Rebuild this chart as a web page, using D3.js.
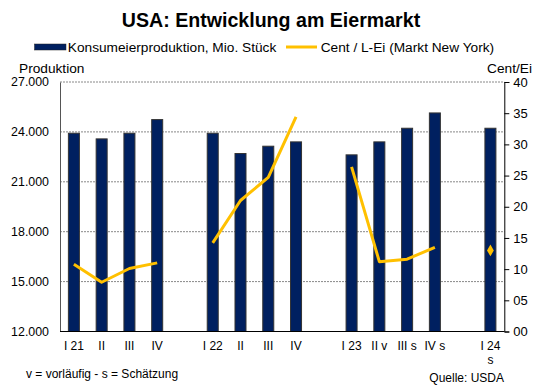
<!DOCTYPE html>
<html><head><meta charset="utf-8">
<script src="https://cdn.jsdelivr.net/npm/d3@7"></script>
<style>
body{margin:0;background:#fff;}
text{font-family:"Liberation Sans",Arial,sans-serif;fill:#000;}
</style></head>
<body><svg id="c" width="540" height="391"></svg>
<script>
const categories = ["I 21","II","III","IV","gap1","I 22","II","III","IV","gap2","I 23","II v","III s","IV s","gap3","I 24"];
const labelLines = [["I 21"],["II"],["III"],["IV"],[],["I 22"],["II"],["III"],["IV"],[],["I 23"],["II v"],["III s"],["IV s"],[],["I 24","s"]];
const production = [23920,23580,23920,24740,null,23920,22700,23140,23400,null,22620,23400,24220,25140,null,24220];
const price = [10.8,7.9,10.1,11.0,null,14.2,21.0,24.7,34.4,null,26.4,11.2,11.6,13.5,null,13.0];
const leftTicks = [12000,15000,18000,21000,24000,27000];
const rightTicks = [0,5,10,15,20,25,30,35,40];

const LFS = "13.7px", AFS = "12px";
const svg = d3.select("#c");
const L=60, R=504.3, T=82, B=331.5;
const keys = categories.map((c,i)=>i);
const x = d3.scaleBand().domain(keys).range([L,R]).paddingInner(0).paddingOuter(0);
const yL = d3.scaleLinear().domain([12000,27000]).range([B,T]);
const yR = d3.scaleLinear().domain([0,40]).range([B,T]);

// title
svg.append("text").attr("x",271).attr("y",27).attr("text-anchor","middle")
  .style("font-size","19.6px").style("font-weight","bold").text("USA: Entwicklung am Eiermarkt");

// legend
svg.append("rect").attr("x",34.5).attr("y",44).attr("width",31.5).attr("height",6).attr("fill","#002060").attr("stroke","#222").attr("stroke-width",0.5);
svg.append("text").attr("x",67.8).attr("y",52).style("font-size",LFS).text("Konsumeierproduktion, Mio. Stück");
svg.append("line").attr("x1",286).attr("x2",317).attr("y1",47).attr("y2",47).attr("stroke","#ffc000").attr("stroke-width",3);
svg.append("text").attr("x",320.7).attr("y",52).style("font-size",LFS).text("Cent / L-Ei (Markt New York)");

svg.append("text").attr("x",19).attr("y",72.5).style("font-size",LFS).text("Produktion");
svg.append("text").attr("x",532).attr("y",72.5).attr("text-anchor","end").style("font-size",LFS).text("Cent/Ei");

// gridlines
svg.append("g").selectAll("line").data(leftTicks.filter(d=>d>12000)).join("line")
  .attr("x1",L).attr("x2",R).attr("y1",d=>yL(d)).attr("y2",d=>yL(d))
  .attr("stroke","#888").attr("stroke-width",1).attr("stroke-dasharray","2,1");

// left axis
const gL = svg.append("g").attr("transform",`translate(${L},0)`)
  .call(d3.axisLeft(yL).tickValues(leftTicks).tickSize(0).tickPadding(11)
    .tickFormat(d=>d3.format(",")(d).replace(/,/g,".")));
gL.select(".domain").attr("stroke","#555");
gL.selectAll("text").style("font-size","12.4px").style("font-family","Liberation Sans, Arial, sans-serif");

// right axis
const gR = svg.append("g").attr("transform",`translate(${R},0)`)
  .call(d3.axisRight(yR).tickValues(rightTicks).tickSize(5).tickPadding(4)
    .tickFormat(d=>d3.format("02d")(d)));
gR.select(".domain").attr("stroke","#000");
gR.selectAll("line").attr("stroke","#000");
gR.selectAll("text").style("font-size","13px").style("font-family","Liberation Sans, Arial, sans-serif");

// bars
const bw = 11;
svg.append("g").selectAll("rect").data(keys.filter(i=>production[i]!=null)).join("rect")
  .attr("x",i=>x(i)+x.bandwidth()/2-bw/2).attr("width",bw)
  .attr("y",i=>yL(production[i])).attr("height",i=>B-yL(production[i]))
  .attr("fill","#002060").attr("stroke","#333").attr("stroke-width",1);

// bottom axis line
svg.append("line").attr("x1",L).attr("x2",R).attr("y1",B).attr("y2",B).attr("stroke","#000").attr("stroke-width",1.2);

// line segments
const line = d3.line().defined(i=>price[i]!=null).x(i=>x(i)+x.bandwidth()/2).y(i=>yR(price[i]));
svg.append("path").datum(keys.slice(0,15)).attr("d",line).attr("fill","none")
  .attr("stroke","#ffc000").attr("stroke-width",3).attr("stroke-linejoin","round");
// single point marker
svg.append("path").attr("d",d3.symbol(d3.symbolDiamond,40)())
  .attr("transform",`translate(${x(15)+x.bandwidth()/2},${yR(price[15])})`).attr("fill","#ffc000");

// x labels
const xl = svg.append("g");
keys.forEach(i=>{
  labelLines[i].forEach((t,j)=>{
    xl.append("text").attr("x",x(i)+x.bandwidth()/2).attr("y",349.5+j*14).attr("text-anchor","middle")
      .style("font-size",AFS).text(t);
  });
});

svg.append("text").attr("x",26).attr("y",377.5).style("font-size",AFS).text("v = vorläufig - s = Schätzung");
svg.append("text").attr("x",504).attr("y",381.5).attr("text-anchor","end").style("font-size",AFS).text("Quelle: USDA");
</script></body></html>
